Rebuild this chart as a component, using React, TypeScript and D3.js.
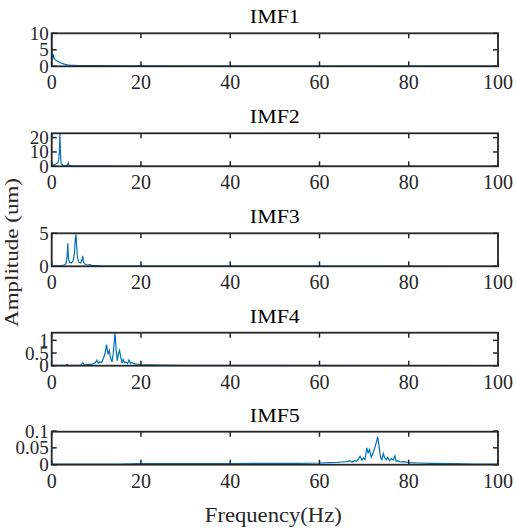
import React from "react";
import * as d3 from "d3";

const titles = ["IMF1", "IMF2", "IMF3", "IMF4", "IMF5"];
const xTicks = [0, 20, 40, 60, 80, 100];
const yMaxes = [10, 23, 5, 1.3, 0.098];
const yTicks = [[0, 5, 10], [0, 10, 20], [0, 5], [0, 0.5, 1], [0, 0.05, 0.1]];
const yTickLabels = [["0", "5", "10"], ["0", "10", "20"], ["0", "5"], ["0", "0.5", "1"], ["0", "0.05", "0.1"]];

const imf1: [number, number][] = [[0,10],[0.1,2.5],[0.2,2.0],[0.35,3.6],[0.5,2.6],[0.8,2.0],[1.2,1.6],[1.6,1.3],[2.0,1.0],[2.5,0.8],[3.0,0.6],[3.5,0.45],[4,0.35],[5,0.3],[6,0.25],[8,0.2],[10,0.18],[15,0.15],[20,0.1],[30,0.07],[50,0.05],[70,0.04],[100,0.03]];
const imf2: [number, number][] = [[0,0.3],[0.5,1.0],[1.0,1.8],[1.4,2.5],[1.6,5],[1.75,12],[1.85,23],[1.95,10],[2.1,2],[2.5,0.6],[3.0,0.4],[3.5,0.8],[3.7,2.3],[3.9,0.6],[4.5,0.3],[6,0.2],[10,0.1],[20,0.05],[50,0.03],[100,0.02]];
const imf3: [number, number][] = [[0,0.02],[1,0.05],[2,0.1],[2.8,0.2],[3.2,0.4],[3.45,1.5],[3.6,3.5],[3.75,1.2],[4.0,0.6],[4.4,0.5],[4.8,0.8],[5.1,2.0],[5.3,4.2],[5.45,4.85],[5.6,3.0],[5.8,1.2],[6.1,0.6],[6.5,0.5],[6.8,1.0],[6.95,1.6],[7.1,0.6],[7.5,0.3],[8,0.2],[8.5,0.25],[9,0.15],[10,0.1],[11,0.06],[13,0.04],[20,0.02],[100,0.01]];
const imf4: [number, number][] = [[0,0.01],[3,0.01],[3.5,0.06],[3.7,0.01],[6.5,0.02],[7.0,0.12],[7.3,0.03],[9,0.05],[9.8,0.12],[10.1,0.22],[10.4,0.1],[10.8,0.15],[11.2,0.12],[11.6,0.3],[11.9,0.45],[12.3,0.83],[12.6,0.45],[12.9,0.6],[13.2,0.3],[13.5,0.15],[13.8,0.5],[14.0,0.9],[14.2,1.3],[14.45,0.6],[14.7,0.2],[15.0,0.5],[15.2,0.6],[15.5,0.3],[15.8,0.1],[16.0,0.25],[16.3,0.12],[16.6,0.15],[17.0,0.08],[17.3,0.22],[17.6,0.1],[18.0,0.12],[18.4,0.08],[19,0.06],[20,0.04],[22,0.03],[25,0.02],[30,0.01],[100,0.005]];
const imf5: [number, number][] = [[0,0.002],[5,0.002],[10,0.002],[15,0.002],[20,0.003],[25,0.003],[30,0.003],[35,0.003],[40,0.003],[45,0.004],[50,0.004],[55,0.004],[60,0.005],[62,0.006],[64,0.007],[65,0.008],[66,0.009],[66.9,0.011],[67.3,0.008],[67.8,0.012],[68.3,0.01],[68.8,0.018],[69.1,0.025],[69.5,0.013],[69.9,0.02],[70.2,0.015],[70.6,0.05],[70.9,0.035],[71.2,0.045],[71.6,0.022],[72.0,0.035],[72.4,0.05],[72.8,0.07],[73.05,0.083],[73.4,0.05],[73.7,0.02],[74.0,0.015],[74.3,0.033],[74.6,0.02],[75.0,0.015],[75.3,0.022],[75.7,0.012],[76.1,0.018],[76.5,0.014],[76.9,0.026],[77.2,0.01],[77.6,0.012],[78,0.008],[79,0.009],[80,0.006],[82,0.005],[85,0.004],[90,0.003],[95,0.002],[100,0.002]];
const series = [imf1, imf2, imf3, imf4, imf5];

const W = 516, H = 528;
const left = 51.7, right = 498;
const tops = [33.3, 133.3, 233.3, 332.7, 431.7];
const ph = 33;
const font = "'Liberation Serif', 'Times New Roman', serif";
const axisColor = "#262626";
const lineColor = "#0072BD";

export default function App() {
  const x = d3.scaleLinear().domain([0, 100]).range([left, right]);
  return (
    <svg width={W} height={H} style={{ position: "absolute", left: 0, top: 0, background: "#fff" }} fontFamily={font}>
      <rect x={0} y={0} width={W} height={H} fill="#fff" />
      {series.map((data, i) => {
        const top = tops[i];
        const bottom = top + ph;
        const y = d3.scaleLinear().domain([0, yMaxes[i]]).range([bottom, top]);
        const line = d3.line<[number, number]>().x(d => x(d[0])).y(d => y(d[1]));
        const clipId = `clip${i}`;
        return (
          <g key={i}>
            <defs>
              <clipPath id={clipId}>
                <rect x={left} y={top} width={right - left} height={ph} />
              </clipPath>
            </defs>
            <path d={line(data) || ""} fill="none" stroke={lineColor} strokeWidth={1.2} clipPath={`url(#${clipId})`} />
            {xTicks.map(t => (
              <g key={"xt" + t}>
                <line x1={x(t)} x2={x(t)} y1={bottom} y2={bottom - 5} stroke={axisColor} strokeWidth={1.5} />
                <line x1={x(t)} x2={x(t)} y1={top} y2={top + 5} stroke={axisColor} strokeWidth={1.5} />
                <text x={x(t)} y={bottom + 23} textAnchor="middle" fontSize={20} fill={axisColor}>{t}</text>
              </g>
            ))}
            {yTicks[i].map((t, j) => (
              <g key={"yt" + j}>
                <line x1={left} x2={left + 5} y1={y(t)} y2={y(t)} stroke={axisColor} strokeWidth={1.5} />
                <line x1={right} x2={right - 5} y1={y(t)} y2={y(t)} stroke={axisColor} strokeWidth={1.5} />
                <text x={left - 3} y={y(t) + 6.5} textAnchor="end" fontSize={19} fill={axisColor}>{yTickLabels[i][j]}</text>
              </g>
            ))}
            <rect x={left} y={top} width={right - left} height={ph} fill="none" stroke={axisColor} strokeWidth={1.8} />
            <text x={(left + right) / 2} y={top - 10} textAnchor="middle" fontSize={19} textLength={50} lengthAdjust="spacingAndGlyphs" fill="#000">{titles[i]}</text>
          </g>
        );
      })}
      <text x={273.3} y={521.7} textAnchor="middle" fontSize={20} textLength={137} lengthAdjust="spacingAndGlyphs" fill={axisColor}>Frequency(Hz)</text>
      <text transform="translate(18,252.5) rotate(-90)" textAnchor="middle" fontSize={19} textLength={149} lengthAdjust="spacingAndGlyphs" fill={axisColor}>Amplitude (um)</text>
    </svg>
  );
}
